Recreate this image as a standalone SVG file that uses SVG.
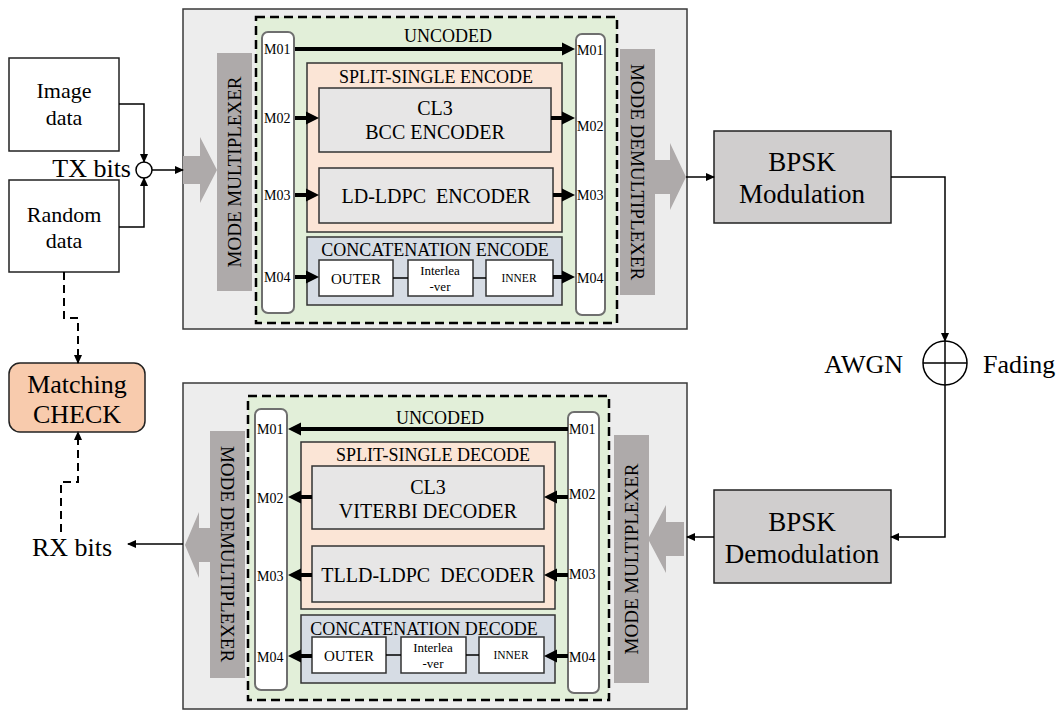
<svg xmlns="http://www.w3.org/2000/svg" width="1062" height="711" viewBox="0 0 1062 711" font-family="Liberation Serif, DejaVu Serif, serif">
<style>
text{font-family:'Liberation Serif','DejaVu Serif',serif;fill:#000}
.outer{fill:#ededed;stroke:#3a3a3a;stroke-width:1.5}
.dash{fill:#e2efd9;stroke:#000;stroke-width:2.5;stroke-dasharray:9,5}
.col{fill:#fff;stroke:#6f6f6f;stroke-width:2}
.bar{fill:#aeaaaa}
.peach{fill:#fbe5d6;stroke:#333;stroke-width:1.5}
.blue{fill:#d6dce4;stroke:#333;stroke-width:1.5}
.gbox{fill:#e7e6e6;stroke:#333;stroke-width:1.5}
.wbox{fill:#fff;stroke:#333;stroke-width:1.5}
.bpsk{fill:#d0cece;stroke:#222;stroke-width:1.5}
.plain{fill:#fff;stroke:#222;stroke-width:1.5}
.thick{stroke:#000;stroke-width:4;fill:none}
.thin{stroke:#000;stroke-width:1.5;fill:none}
.tdash{stroke:#000;stroke-width:2;fill:none;stroke-dasharray:8,5}
.m{font-size:14px}
.sec{font-size:18px}
.blk{font-size:20px}
.big{font-size:26px}
.vert{font-size:19px}
</style>
<defs>
<marker id="ah" markerUnits="userSpaceOnUse" markerWidth="14" markerHeight="14" viewBox="0 -7 14 14" refX="0" refY="0" orient="auto"><path d="M0,-6.5 L13,0 L0,6.5 z" fill="#000"/></marker>
<marker id="as" markerUnits="userSpaceOnUse" markerWidth="10" markerHeight="10" viewBox="0 -5 10 10" refX="8" refY="0" orient="auto"><path d="M0,-4 L9,0 L0,4 z" fill="#000"/></marker>
</defs>

<g id="tx-section">
<rect class="outer" x="183" y="9" width="504" height="320"/>
<rect class="dash" x="256" y="17" width="361" height="306"/>
<polygon class="bar" points="183,156 200,156 200,137 217,170 200,203 200,184 183,184"/>
<polygon class="bar" points="655,160 670,160 670,143 686,177 670,210 670,194 655,194"/>
</g>

<g id="mode-multiplexer-tx">
<rect class="bar" x="217" y="53" width="35" height="238"/>
<text class="vert" transform="translate(241,172) rotate(-90)" text-anchor="middle">MODE MULTIPLEXER</text>
</g>
<g id="mode-demultiplexer-tx">
<rect class="bar" x="620" y="49" width="35" height="246"/>
<text class="vert" transform="translate(631,172) rotate(90)" text-anchor="middle">MODE DEMULTIPLEXER</text>
</g>

<g id="tx-left-column">
<rect class="col" x="262" y="32" width="32" height="281" rx="6"/>
<text class="m" x="264" y="54">M01</text>
<text class="m" x="264" y="123">M02</text>
<text class="m" x="264" y="200">M03</text>
<text class="m" x="264" y="282">M04</text>
</g>
<g id="tx-right-column">
<rect class="col" x="576" y="34" width="29" height="281" rx="6"/>
<text class="m" x="577" y="55">M01</text>
<text class="m" x="577" y="131">M02</text>
<text class="m" x="577" y="200">M03</text>
<text class="m" x="577" y="283">M04</text>
</g>
<g id="uncoded-tx"><text class="sec" x="448" y="42" text-anchor="middle">UNCODED</text></g>

<g id="split-single-encode">
<rect class="peach" x="307" y="63" width="255" height="169"/>
<text class="sec" x="436" y="83" text-anchor="middle">SPLIT-SINGLE ENCODE</text>
</g>
<g id="bcc-encoder">
<rect class="gbox" x="319" y="88" width="232" height="64"/>
<text class="blk" x="435" y="115" text-anchor="middle">CL3</text>
<text class="blk" x="435" y="139" text-anchor="middle">BCC ENCODER</text>
</g>
<g id="ldldpc-encoder">
<rect class="gbox" x="319" y="168" width="234" height="55"/>
<text class="blk" x="436" y="203" text-anchor="middle" xml:space="preserve">LD-LDPC  ENCODER</text>
</g>
<g id="concatenation-encode">
<rect class="blue" x="307" y="237" width="255" height="68"/>
<text class="sec" x="435" y="256" text-anchor="middle">CONCATENATION ENCODE</text>
</g>
<g id="outer-enc">
<rect class="wbox" x="319" y="260" width="74" height="36"/>
<text x="356" y="284" text-anchor="middle" style="font-size:15px">OUTER</text>
</g>
<g id="interleaver-enc">
<rect class="wbox" x="408" y="260" width="65" height="36"/>
<text x="440" y="275" text-anchor="middle" style="font-size:13px">Interlea</text>
<text x="440" y="291" text-anchor="middle" style="font-size:13px">-ver</text>
</g>
<g id="inner-enc">
<rect class="wbox" x="486" y="260" width="67" height="36"/>
<text x="519" y="282" text-anchor="middle" style="font-size:11.5px">INNER</text>
</g>

<g id="image-data">
<rect class="plain" x="9" y="58" width="110" height="93"/>
<text x="64" y="98" text-anchor="middle" style="font-size:22px">Image</text>
<text x="64" y="125" text-anchor="middle" style="font-size:22px">data</text>
</g>
<g id="random-data">
<rect class="plain" x="9" y="180" width="110" height="92"/>
<text x="64" y="222" text-anchor="middle" style="font-size:22px">Random</text>
<text x="64" y="248" text-anchor="middle" style="font-size:22px">data</text>
</g>
<g id="tx-bits">
<circle cx="144" cy="170" r="8" fill="#fff" stroke="#000" stroke-width="1.5"/>
<text class="big" x="131" y="177" text-anchor="end">TX bits</text>
</g>
<g id="matching-check">
<rect x="9" y="363" width="136" height="69" rx="11" fill="#f8cbad" stroke="#222" stroke-width="1.5"/>
<text class="big" x="77" y="393" text-anchor="middle">Matching</text>
<text class="big" x="77" y="423" text-anchor="middle">CHECK</text>
</g>
<g id="rx-bits"><text class="big" x="32" y="556">RX bits</text></g>

<g id="bpsk-modulation">
<rect class="bpsk" x="714" y="131" width="177" height="92"/>
<text x="802" y="171" text-anchor="middle" style="font-size:27px">BPSK</text>
<text x="802" y="203" text-anchor="middle" style="font-size:27px">Modulation</text>
</g>
<g id="channel">
<circle cx="945" cy="363" r="22" fill="#fff" stroke="#000" stroke-width="1.5"/>
<path class="thin" d="M923,363 H967 M945,341 V385"/>
<text class="big" x="903" y="373" text-anchor="end">AWGN</text>
<text class="big" x="983" y="373">Fading</text>
</g>
<g id="bpsk-demodulation">
<rect class="bpsk" x="714" y="490" width="177" height="93"/>
<text x="802" y="531" text-anchor="middle" style="font-size:27px">BPSK</text>
<text x="802" y="563" text-anchor="middle" style="font-size:27px">Demodulation</text>
</g>

<g id="rx-section">
<rect class="outer" x="183" y="383" width="504" height="326"/>
<rect class="dash" x="248" y="396" width="361" height="304"/>
<polygon class="bar" points="210,528 199,528 199,512 185,545 199,578 199,562 210,562"/>
<polygon class="bar" points="684,522 666,522 666,505 648,539 666,573 666,556 684,556"/>
</g>
<g id="mode-demultiplexer-rx">
<rect class="bar" x="210" y="431" width="35" height="247"/>
<text class="vert" transform="translate(221,554) rotate(90)" text-anchor="middle">MODE DEMULTIPLEXER</text>
</g>
<g id="mode-multiplexer-rx">
<rect class="bar" x="614" y="435" width="35" height="248"/>
<text class="vert" transform="translate(638,559) rotate(-90)" text-anchor="middle">MODE MULTIPLEXER</text>
</g>
<g id="rx-left-column">
<rect class="col" x="255" y="409" width="32" height="281" rx="6"/>
<text class="m" x="257" y="434">M01</text>
<text class="m" x="257" y="503">M02</text>
<text class="m" x="257" y="581">M03</text>
<text class="m" x="257" y="662">M04</text>
</g>
<g id="rx-right-column">
<rect class="col" x="568" y="412" width="31" height="281" rx="6"/>
<text class="m" x="569" y="434">M01</text>
<text class="m" x="569" y="499">M02</text>
<text class="m" x="569" y="579">M03</text>
<text class="m" x="569" y="662">M04</text>
</g>
<g id="uncoded-rx"><text class="sec" x="440" y="424" text-anchor="middle">UNCODED</text></g>
<g id="split-single-decode">
<rect class="peach" x="301" y="442" width="254" height="167"/>
<text class="sec" x="433" y="461" text-anchor="middle">SPLIT-SINGLE DECODE</text>
</g>
<g id="viterbi-decoder">
<rect class="gbox" x="312" y="466" width="232" height="63"/>
<text class="blk" x="428" y="494" text-anchor="middle">CL3</text>
<text class="blk" x="428" y="518" text-anchor="middle">VITERBI DECODER</text>
</g>
<g id="tlld-ldpc-decoder">
<rect class="gbox" x="312" y="546" width="232" height="56"/>
<text class="blk" x="428" y="582" text-anchor="middle" xml:space="preserve">TLLD-LDPC  DECODER</text>
</g>
<g id="concatenation-decode">
<rect class="blue" x="301" y="615" width="254" height="68"/>
<text class="sec" x="424" y="635" text-anchor="middle">CONCATENATION DECODE</text>
</g>
<g id="outer-dec">
<rect class="wbox" x="312" y="637" width="74" height="36"/>
<text x="349" y="661" text-anchor="middle" style="font-size:15px">OUTER</text>
</g>
<g id="interleaver-dec">
<rect class="wbox" x="401" y="637" width="65" height="36"/>
<text x="433" y="652" text-anchor="middle" style="font-size:13px">Interlea</text>
<text x="433" y="668" text-anchor="middle" style="font-size:13px">-ver</text>
</g>
<g id="inner-dec">
<rect class="wbox" x="479" y="637" width="65" height="36"/>
<text x="511" y="659" text-anchor="middle" style="font-size:11.5px">INNER</text>
</g>

<g id="connectors">
<path class="thick" d="M295,49 H562" marker-end="url(#ah)"/>
<path class="thick" d="M295,118 H306" marker-end="url(#ah)"/>
<path class="thick" d="M551,118 H562" marker-end="url(#ah)"/>
<path class="thick" d="M295,195 H306" marker-end="url(#ah)"/>
<path class="thick" d="M553,195 H562" marker-end="url(#ah)"/>
<path class="thick" d="M295,277 H306" marker-end="url(#ah)"/>
<path class="thick" d="M553,277 H562" marker-end="url(#ah)"/>
<path class="thin" d="M393,278 H408 M473,278 H486"/>
<path class="thick" d="M568,429 H301" marker-end="url(#ah)"/>
<path class="thick" d="M568,497 H557" marker-end="url(#ah)"/>
<path class="thick" d="M312,497 H301" marker-end="url(#ah)"/>
<path class="thick" d="M568,575 H557" marker-end="url(#ah)"/>
<path class="thick" d="M312,575 H301" marker-end="url(#ah)"/>
<path class="thick" d="M568,656 H557" marker-end="url(#ah)"/>
<path class="thick" d="M312,656 H301" marker-end="url(#ah)"/>
<path class="thin" d="M386,655 H401 M466,655 H479"/>
<path class="thin" d="M119,104 H144 V162" marker-end="url(#as)"/>
<path class="thin" d="M119,227 H144 V178" marker-end="url(#as)"/>
<path class="thin" d="M152,170 H183" marker-end="url(#as)"/>
<path class="thin" d="M686,177 H714" marker-end="url(#as)"/>
<path class="thin" d="M891,177 H945 V341" marker-end="url(#as)"/>
<path class="thin" d="M945,385 V537 H891" marker-end="url(#as)"/>
<path class="thin" d="M714,537 H687" marker-end="url(#as)"/>
<path class="thin" d="M183,544 H128" marker-end="url(#as)"/>
<path class="tdash" d="M64,272 V318 H78 V363" marker-end="url(#as)"/>
<path class="tdash" d="M61,532 V482 H78 V432" marker-end="url(#as)"/>
</g>
</svg>
